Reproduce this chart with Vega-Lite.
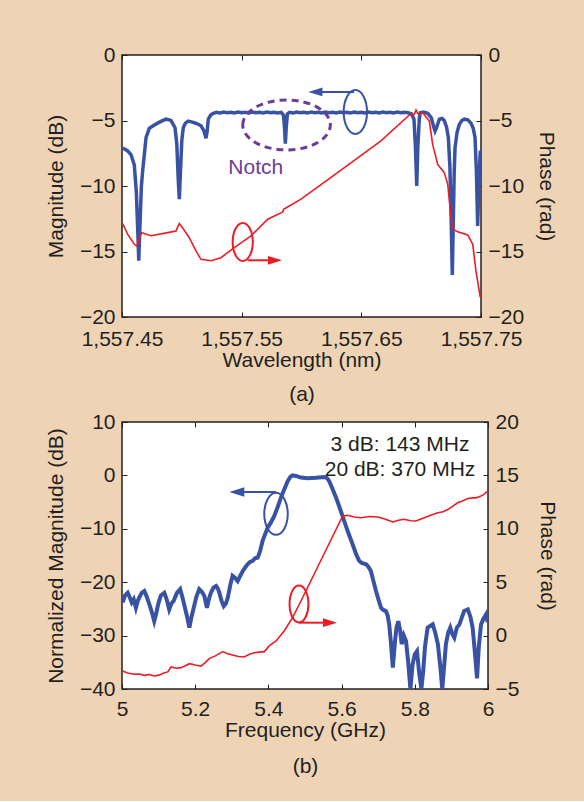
{
 "$schema": "https://vega.github.io/schema/vega-lite/v6.json",
 "background": "#EFD3B5",
 "padding": {"left": 44, "top": 43, "right": 26, "bottom": 24},
 "spacing": 5,
 "config": {
  "font": "Liberation Sans",
  "view": {"fill": "white", "stroke": "#231F20", "strokeWidth": 1.5},
  "axis": {"labelFont": "Liberation Sans", "labelFontSize": 21, "labelColor": "#231F20", "titleFont": "Liberation Sans", "titleFontSize": 21, "titleFontWeight": "normal", "titleColor": "#231F20", "grid": false, "domain": false, "tickColor": "#231F20", "tickSize": -5, "tickWidth": 1, "labelPadding": 12, "titlePadding": 13, "labelFlush": false, "labelOverlap": false}
 },
 "datasets": {
  "magA": [
   {"wavelength":1557.4506,"magnitude":-7.1},{"wavelength":1557.4545,"magnitude":-7.3},{"wavelength":1557.4575,"magnitude":-7.6},{"wavelength":1557.4603,"magnitude":-8.4},{"wavelength":1557.4620,"magnitude":-10.5},{"wavelength":1557.4632,"magnitude":-13.5},{"wavelength":1557.4640,"magnitude":-15.7},{"wavelength":1557.4650,"magnitude":-13.0},{"wavelength":1557.4662,"magnitude":-10.0},{"wavelength":1557.4673,"magnitude":-8.8},{"wavelength":1557.4701,"magnitude":-6.3},{"wavelength":1557.4728,"magnitude":-5.6},{"wavelength":1557.4760,"magnitude":-5.4},{"wavelength":1557.4798,"magnitude":-5.2},{"wavelength":1557.4830,"magnitude":-5.05},{"wavelength":1557.4868,"magnitude":-4.9},{"wavelength":1557.4895,"magnitude":-4.95},{"wavelength":1557.4909,"magnitude":-5.0},{"wavelength":1557.4943,"magnitude":-5.55},{"wavelength":1557.4958,"magnitude":-6.8},{"wavelength":1557.4970,"magnitude":-9.5},{"wavelength":1557.4979,"magnitude":-11.0},{"wavelength":1557.4988,"magnitude":-9.0},{"wavelength":1557.5000,"magnitude":-6.5},{"wavelength":1557.5012,"magnitude":-5.55},{"wavelength":1557.5030,"magnitude":-5.2},{"wavelength":1557.5054,"magnitude":-5.04},{"wavelength":1557.5080,"magnitude":-5.1},{"wavelength":1557.5104,"magnitude":-5.17},{"wavelength":1557.5130,"magnitude":-5.25},{"wavelength":1557.5160,"magnitude":-5.4},{"wavelength":1557.5185,"magnitude":-5.8},{"wavelength":1557.5202,"magnitude":-6.36},{"wavelength":1557.5212,"magnitude":-5.8},{"wavelength":1557.5221,"magnitude":-4.9},{"wavelength":1557.5240,"magnitude":-4.6},{"wavelength":1557.5258,"magnitude":-4.48},{"wavelength":1557.5290,"magnitude":-4.38},{"wavelength":1557.5320,"magnitude":-4.42},{"wavelength":1557.5350,"magnitude":-4.36},{"wavelength":1557.5380,"magnitude":-4.41},{"wavelength":1557.5410,"magnitude":-4.37},{"wavelength":1557.5440,"magnitude":-4.42},{"wavelength":1557.5470,"magnitude":-4.36},{"wavelength":1557.5500,"magnitude":-4.41},{"wavelength":1557.5530,"magnitude":-4.37},{"wavelength":1557.5560,"magnitude":-4.42},{"wavelength":1557.5590,"magnitude":-4.36},{"wavelength":1557.5620,"magnitude":-4.41},{"wavelength":1557.5650,"magnitude":-4.37},{"wavelength":1557.5680,"magnitude":-4.42},{"wavelength":1557.5710,"magnitude":-4.36},{"wavelength":1557.5740,"magnitude":-4.41},{"wavelength":1557.5770,"magnitude":-4.37},{"wavelength":1557.5800,"magnitude":-4.42},{"wavelength":1557.5830,"magnitude":-4.38},{"wavelength":1557.5850,"magnitude":-4.6},{"wavelength":1557.5860,"magnitude":-5.8},{"wavelength":1557.5865,"magnitude":-6.77},{"wavelength":1557.5872,"magnitude":-5.6},{"wavelength":1557.5882,"magnitude":-4.5},{"wavelength":1557.5900,"magnitude":-4.37},{"wavelength":1557.5930,"magnitude":-4.42},{"wavelength":1557.5960,"magnitude":-4.36},{"wavelength":1557.5990,"magnitude":-4.41},{"wavelength":1557.6020,"magnitude":-4.37},{"wavelength":1557.6050,"magnitude":-4.42},{"wavelength":1557.6080,"magnitude":-4.36},{"wavelength":1557.6110,"magnitude":-4.41},{"wavelength":1557.6140,"magnitude":-4.37},{"wavelength":1557.6170,"magnitude":-4.42},{"wavelength":1557.6200,"magnitude":-4.36},{"wavelength":1557.6230,"magnitude":-4.41},{"wavelength":1557.6260,"magnitude":-4.37},{"wavelength":1557.6290,"magnitude":-4.42},{"wavelength":1557.6320,"magnitude":-4.36},{"wavelength":1557.6350,"magnitude":-4.41},{"wavelength":1557.6380,"magnitude":-4.37},{"wavelength":1557.6410,"magnitude":-4.42},{"wavelength":1557.6440,"magnitude":-4.36},{"wavelength":1557.6470,"magnitude":-4.41},{"wavelength":1557.6500,"magnitude":-4.37},{"wavelength":1557.6530,"magnitude":-4.42},{"wavelength":1557.6560,"magnitude":-4.36},{"wavelength":1557.6590,"magnitude":-4.41},{"wavelength":1557.6620,"magnitude":-4.37},{"wavelength":1557.6650,"magnitude":-4.42},{"wavelength":1557.6680,"magnitude":-4.36},{"wavelength":1557.6710,"magnitude":-4.41},{"wavelength":1557.6740,"magnitude":-4.37},{"wavelength":1557.6770,"magnitude":-4.42},{"wavelength":1557.6800,"magnitude":-4.36},{"wavelength":1557.6830,"magnitude":-4.41},{"wavelength":1557.6860,"magnitude":-4.37},{"wavelength":1557.6890,"magnitude":-4.4},{"wavelength":1557.6920,"magnitude":-4.5},{"wavelength":1557.6940,"magnitude":-4.9},{"wavelength":1557.6952,"magnitude":-7.0},{"wavelength":1557.6963,"magnitude":-10.0},{"wavelength":1557.6972,"magnitude":-7.0},{"wavelength":1557.6985,"magnitude":-4.8},{"wavelength":1557.6993,"magnitude":-4.4},{"wavelength":1557.7020,"magnitude":-4.35},{"wavelength":1557.7055,"magnitude":-4.45},{"wavelength":1557.7085,"magnitude":-4.8},{"wavelength":1557.7105,"magnitude":-5.5},{"wavelength":1557.7116,"magnitude":-5.8},{"wavelength":1557.7130,"magnitude":-5.5},{"wavelength":1557.7152,"magnitude":-4.9},{"wavelength":1557.7175,"magnitude":-4.85},{"wavelength":1557.7193,"magnitude":-5.0},{"wavelength":1557.7212,"magnitude":-5.5},{"wavelength":1557.7227,"magnitude":-6.3},{"wavelength":1557.7240,"magnitude":-8.5},{"wavelength":1557.7252,"magnitude":-13.0},{"wavelength":1557.7260,"magnitude":-16.8},{"wavelength":1557.7268,"magnitude":-13.0},{"wavelength":1557.7276,"magnitude":-9.0},{"wavelength":1557.7283,"magnitude":-7.07},{"wavelength":1557.7300,"magnitude":-5.9},{"wavelength":1557.7319,"magnitude":-5.3},{"wavelength":1557.7340,"magnitude":-5.0},{"wavelength":1557.7361,"magnitude":-4.9},{"wavelength":1557.7390,"magnitude":-4.95},{"wavelength":1557.7416,"magnitude":-5.2},{"wavelength":1557.7435,"magnitude":-5.6},{"wavelength":1557.7450,"magnitude":-6.3},{"wavelength":1557.7462,"magnitude":-9.0},{"wavelength":1557.7472,"magnitude":-13.05},{"wavelength":1557.7482,"magnitude":-10.0},{"wavelength":1557.7494,"magnitude":-7.3}
  ],
  "phaseA": [
   {"wavelength":1557.4506,"phase":-12.87},{"wavelength":1557.4548,"phase":-13.7},{"wavelength":1557.4603,"phase":-14.45},{"wavelength":1557.4625,"phase":-14.6},{"wavelength":1557.4645,"phase":-13.95},{"wavelength":1557.4665,"phase":-13.56},{"wavelength":1557.4742,"phase":-13.8},{"wavelength":1557.4882,"phase":-13.56},{"wavelength":1557.4951,"phase":-13.43},{"wavelength":1557.4979,"phase":-12.87},{"wavelength":1557.5007,"phase":-13.2},{"wavelength":1557.5062,"phase":-13.95},{"wavelength":1557.5118,"phase":-14.96},{"wavelength":1557.5160,"phase":-15.6},{"wavelength":1557.5244,"phase":-15.7},{"wavelength":1557.5327,"phase":-15.47},{"wavelength":1557.5438,"phase":-14.7},{"wavelength":1557.5578,"phase":-13.8},{"wavelength":1557.5718,"phase":-12.54},{"wavelength":1557.5843,"phase":-11.98},{"wavelength":1557.5854,"phase":-11.75},{"wavelength":1557.5862,"phase":-11.72},{"wavelength":1557.5996,"phase":-11.0},{"wavelength":1557.6330,"phase":-8.79},{"wavelength":1557.6664,"phase":-6.56},{"wavelength":1557.6901,"phase":-4.58},{"wavelength":1557.6943,"phase":-4.53},{"wavelength":1557.6957,"phase":-4.2},{"wavelength":1557.6971,"phase":-4.48},{"wavelength":1557.7013,"phase":-4.4},{"wavelength":1557.7068,"phase":-5.04},{"wavelength":1557.7096,"phase":-6.82},{"wavelength":1557.7138,"phase":-8.35},{"wavelength":1557.7193,"phase":-8.98},{"wavelength":1557.7222,"phase":-9.87},{"wavelength":1557.7249,"phase":-12.4},{"wavelength":1557.7268,"phase":-13.3},{"wavelength":1557.7305,"phase":-13.5},{"wavelength":1557.7389,"phase":-13.74},{"wavelength":1557.7431,"phase":-14.45},{"wavelength":1557.7458,"phase":-16.5},{"wavelength":1557.7494,"phase":-18.5}
  ],
  "notchA": [{"wavelength":1557.5875,"value":-5.34,"label":"Notch","textY":-9.1,"textX":1557.5618}],
  "magMarkA": [{"wavelength":1557.645,"value":-4.35,"arrowStart":1557.6439,"arrowEnd":1557.6116,"arrowY":-2.82}],
  "phaseMarkA": [{"wavelength":1557.5509,"value":-14.27,"arrowStart":1557.5548,"arrowEnd":1557.5779,"arrowY":-15.67}],
  "magB": [
   {"frequency":5.002,"magnitude":-23.8},{"frequency":5.008,"magnitude":-22.5},{"frequency":5.0156,"magnitude":-21.97},{"frequency":5.021,"magnitude":-22.8},{"frequency":5.0265,"magnitude":-23.8},{"frequency":5.032,"magnitude":-23.2},{"frequency":5.038,"magnitude":-24.8},{"frequency":5.043,"magnitude":-23.5},{"frequency":5.047,"magnitude":-22.9},{"frequency":5.054,"magnitude":-22.0},{"frequency":5.061,"magnitude":-21.65},{"frequency":5.067,"magnitude":-22.6},{"frequency":5.0746,"magnitude":-24.1},{"frequency":5.081,"magnitude":-25.5},{"frequency":5.088,"magnitude":-27.3},{"frequency":5.093,"magnitude":-26.0},{"frequency":5.099,"magnitude":-24.1},{"frequency":5.106,"magnitude":-22.5},{"frequency":5.1156,"magnitude":-21.97},{"frequency":5.122,"magnitude":-23.2},{"frequency":5.129,"magnitude":-25.1},{"frequency":5.135,"magnitude":-24.0},{"frequency":5.141,"magnitude":-23.5},{"frequency":5.150,"magnitude":-22.0},{"frequency":5.159,"magnitude":-21.3},{"frequency":5.165,"magnitude":-22.8},{"frequency":5.172,"magnitude":-24.8},{"frequency":5.178,"magnitude":-26.5},{"frequency":5.184,"magnitude":-28.5},{"frequency":5.190,"magnitude":-26.5},{"frequency":5.196,"magnitude":-24.8},{"frequency":5.203,"magnitude":-22.8},{"frequency":5.211,"magnitude":-21.3},{"frequency":5.218,"magnitude":-21.8},{"frequency":5.225,"magnitude":-22.6},{"frequency":5.232,"magnitude":-24.8},{"frequency":5.238,"magnitude":-23.0},{"frequency":5.243,"magnitude":-21.97},{"frequency":5.250,"magnitude":-21.0},{"frequency":5.257,"magnitude":-20.7},{"frequency":5.262,"magnitude":-21.2},{"frequency":5.266,"magnitude":-21.97},{"frequency":5.272,"magnitude":-23.5},{"frequency":5.278,"magnitude":-24.5},{"frequency":5.284,"magnitude":-24.0},{"frequency":5.289,"magnitude":-22.9},{"frequency":5.296,"magnitude":-20.5},{"frequency":5.302,"magnitude":-18.8},{"frequency":5.309,"magnitude":-19.2},{"frequency":5.316,"magnitude":-19.8},{"frequency":5.323,"magnitude":-18.8},{"frequency":5.330,"magnitude":-17.9},{"frequency":5.337,"magnitude":-17.2},{"frequency":5.343,"magnitude":-16.65},{"frequency":5.350,"magnitude":-16.2},{"frequency":5.357,"magnitude":-16.0},{"frequency":5.364,"magnitude":-15.5},{"frequency":5.371,"magnitude":-15.4},{"frequency":5.378,"magnitude":-14.0},{"frequency":5.384,"magnitude":-12.3},{"frequency":5.391,"magnitude":-11.0},{"frequency":5.398,"magnitude":-9.8},{"frequency":5.407,"magnitude":-8.8},{"frequency":5.416,"magnitude":-7.6},{"frequency":5.425,"magnitude":-6.0},{"frequency":5.434,"magnitude":-4.2},{"frequency":5.444,"magnitude":-2.5},{"frequency":5.453,"magnitude":-1.05},{"frequency":5.460,"magnitude":-0.3},{"frequency":5.466,"magnitude":0.0},{"frequency":5.475,"magnitude":-0.1},{"frequency":5.489,"magnitude":-0.4},{"frequency":5.507,"magnitude":-0.55},{"frequency":5.530,"magnitude":-0.45},{"frequency":5.553,"magnitude":-0.3},{"frequency":5.560,"magnitude":-0.5},{"frequency":5.566,"magnitude":-1.05},{"frequency":5.575,"magnitude":-2.5},{"frequency":5.585,"magnitude":-4.2},{"frequency":5.596,"magnitude":-6.3},{"frequency":5.607,"magnitude":-8.5},{"frequency":5.618,"magnitude":-10.7},{"frequency":5.630,"magnitude":-12.9},{"frequency":5.640,"magnitude":-14.8},{"frequency":5.648,"magnitude":-16.0},{"frequency":5.655,"magnitude":-16.4},{"frequency":5.667,"magnitude":-16.65},{"frequency":5.674,"magnitude":-17.2},{"frequency":5.680,"magnitude":-17.9},{"frequency":5.687,"magnitude":-19.8},{"frequency":5.694,"magnitude":-21.65},{"frequency":5.701,"magnitude":-23.3},{"frequency":5.708,"magnitude":-24.8},{"frequency":5.714,"magnitude":-25.2},{"frequency":5.721,"magnitude":-25.4},{"frequency":5.726,"magnitude":-26.3},{"frequency":5.730,"magnitude":-27.9},{"frequency":5.735,"magnitude":-31.5},{"frequency":5.740,"magnitude":-36.0},{"frequency":5.746,"magnitude":-31.0},{"frequency":5.750,"magnitude":-28.5},{"frequency":5.755,"magnitude":-27.3},{"frequency":5.760,"magnitude":-29.0},{"frequency":5.764,"magnitude":-31.6},{"frequency":5.770,"magnitude":-30.0},{"frequency":5.776,"magnitude":-31.0},{"frequency":5.782,"magnitude":-35.0},{"frequency":5.788,"magnitude":-40.0},{"frequency":5.794,"magnitude":-35.4},{"frequency":5.800,"magnitude":-33.5},{"frequency":5.806,"magnitude":-32.9},{"frequency":5.812,"magnitude":-37.0},{"frequency":5.818,"magnitude":-40.0},{"frequency":5.823,"magnitude":-36.6},{"frequency":5.828,"magnitude":-32.0},{"frequency":5.835,"magnitude":-28.5},{"frequency":5.842,"magnitude":-28.2},{"frequency":5.849,"magnitude":-27.9},{"frequency":5.856,"magnitude":-29.5},{"frequency":5.863,"magnitude":-31.6},{"frequency":5.870,"magnitude":-36.0},{"frequency":5.875,"magnitude":-40.0},{"frequency":5.881,"magnitude":-35.0},{"frequency":5.885,"magnitude":-31.6},{"frequency":5.891,"magnitude":-29.5},{"frequency":5.897,"magnitude":-28.5},{"frequency":5.903,"magnitude":-29.8},{"frequency":5.908,"magnitude":-30.4},{"frequency":5.915,"magnitude":-28.5},{"frequency":5.922,"magnitude":-27.9},{"frequency":5.929,"magnitude":-26.5},{"frequency":5.935,"magnitude":-25.4},{"frequency":5.945,"magnitude":-25.1},{"frequency":5.952,"magnitude":-26.5},{"frequency":5.958,"magnitude":-28.5},{"frequency":5.964,"magnitude":-33.0},{"frequency":5.970,"magnitude":-38.0},{"frequency":5.975,"magnitude":-32.0},{"frequency":5.981,"magnitude":-27.9},{"frequency":5.988,"magnitude":-26.8},{"frequency":5.995,"magnitude":-26.0},{"frequency":5.999,"magnitude":-27.5}
  ],
  "phaseB": [
   {"frequency":5.002,"phase":-3.31},{"frequency":5.015,"phase":-3.5},{"frequency":5.034,"phase":-3.62},{"frequency":5.048,"phase":-3.6},{"frequency":5.061,"phase":-3.72},{"frequency":5.075,"phase":-3.65},{"frequency":5.088,"phase":-3.78},{"frequency":5.100,"phase":-3.7},{"frequency":5.116,"phase":-3.47},{"frequency":5.125,"phase":-3.4},{"frequency":5.134,"phase":-2.94},{"frequency":5.148,"phase":-3.05},{"frequency":5.161,"phase":-3.0},{"frequency":5.172,"phase":-2.85},{"frequency":5.184,"phase":-2.63},{"frequency":5.200,"phase":-2.75},{"frequency":5.216,"phase":-2.85},{"frequency":5.228,"phase":-2.5},{"frequency":5.239,"phase":-2.13},{"frequency":5.255,"phase":-1.9},{"frequency":5.275,"phase":-1.5},{"frequency":5.288,"phase":-1.7},{"frequency":5.302,"phase":-1.82},{"frequency":5.318,"phase":-1.95},{"frequency":5.334,"phase":-2.0},{"frequency":5.348,"phase":-1.75},{"frequency":5.361,"phase":-1.6},{"frequency":5.375,"phase":-1.55},{"frequency":5.389,"phase":-1.5},{"frequency":5.402,"phase":-0.97},{"frequency":5.421,"phase":-0.5},{"frequency":5.443,"phase":0.43},{"frequency":5.466,"phase":1.68},{"frequency":5.489,"phase":3.24},{"frequency":5.603,"phase":11.2},{"frequency":5.617,"phase":11.26},{"frequency":5.635,"phase":11.1},{"frequency":5.653,"phase":11.04},{"frequency":5.675,"phase":11.15},{"frequency":5.699,"phase":11.1},{"frequency":5.720,"phase":10.9},{"frequency":5.740,"phase":10.64},{"frequency":5.755,"phase":10.8},{"frequency":5.771,"phase":10.89},{"frequency":5.788,"phase":10.75},{"frequency":5.803,"phase":10.73},{"frequency":5.815,"phase":10.9},{"frequency":5.826,"phase":11.04},{"frequency":5.845,"phase":11.3},{"frequency":5.863,"phase":11.5},{"frequency":5.877,"phase":11.6},{"frequency":5.890,"phase":11.8},{"frequency":5.903,"phase":12.1},{"frequency":5.917,"phase":12.44},{"frequency":5.930,"phase":12.6},{"frequency":5.945,"phase":12.84},{"frequency":5.957,"phase":12.9},{"frequency":5.967,"phase":12.9},{"frequency":5.976,"phase":13.0},{"frequency":5.986,"phase":13.15},{"frequency":5.999,"phase":13.54}
  ],
  "magMarkB": [{"frequency":5.4208,"value":-7.19,"arrowStart":5.4208,"arrowEnd":5.3137,"arrowY":-3.11}],
  "phaseMarkB": [{"frequency":5.4836,"value":2.96,"arrowStart":5.4836,"arrowEnd":5.5683,"arrowY":1.21}],
  "notesB": [{"frequency":5.7596,"value":4.57,"label":"3 dB: 143 MHz"},{"frequency":5.7596,"value":-0.11,"label":"20 dB: 370 MHz"}]
 },
 "vconcat": [
  {
   "width": 359, "height": 262,
   "resolve": {"scale": {"y": "independent"}, "axis": {"x": "independent"}},
   "layer": [
    {"data": {"name": "magA"},
     "mark": {"type": "line", "color": "#3953A4", "strokeWidth": 3.5, "clip": true},
     "encoding": {
      "x": {"field": "wavelength", "type": "quantitative", "scale": {"domain": [1557.45, 1557.75], "nice": false, "zero": false},
            "axis": {"orient": "bottom", "values": [1557.45, 1557.55, 1557.65, 1557.75], "format": ",.2f", "title": ["Wavelength (nm)", "(a)"], "titleLineHeight": 34, "labelPadding": 16, "titlePadding": 0}},
      "y": {"field": "magnitude", "type": "quantitative", "scale": {"domain": [-20, 0], "nice": false, "zero": false},
            "axis": {"orient": "left", "values": [0, -5, -10, -15, -20], "title": "Magnitude (dB)"}}
     }},
    {"data": {"name": "phaseA"},
     "mark": {"type": "line", "color": "#ED1C24", "strokeWidth": 1.6, "clip": true},
     "encoding": {
      "x": {"field": "wavelength", "type": "quantitative", "scale": {"domain": [1557.45, 1557.75], "nice": false, "zero": false},
            "axis": {"orient": "top", "values": [1557.45, 1557.55, 1557.65, 1557.75], "labels": false, "title": null}},
      "y": {"field": "phase", "type": "quantitative", "scale": {"domain": [-20, 0], "nice": false, "zero": false},
            "axis": {"orient": "right", "values": [0, -5, -10, -15, -20], "title": "Phase (rad)", "titlePadding": 12}}
     }},
    {"data": {"name": "notchA"},
     "mark": {"type": "point", "shape": "M-1,0A1,0.57 0 1 1 1,0A1,0.57 0 1 1 -1,0Z", "size": 7674, "filled": false, "stroke": "#6B3D97", "strokeWidth": 3, "strokeDash": [7, 5], "opacity": 1},
     "encoding": {
      "x": {"field": "wavelength", "type": "quantitative", "axis": null},
      "y": {"field": "value", "type": "quantitative", "scale": {"domain": [-20, 0], "nice": false, "zero": false}, "axis": null}
     }},
    {"data": {"name": "notchA"},
     "mark": {"type": "text", "font": "Liberation Sans", "fontSize": 21, "color": "#6B3D97", "align": "center", "baseline": "alphabetic"},
     "encoding": {
      "x": {"field": "textX", "type": "quantitative", "axis": null},
      "y": {"field": "textY", "type": "quantitative", "scale": {"domain": [-20, 0], "nice": false, "zero": false}, "axis": null},
      "text": {"field": "label"}
     }},
    {"data": {"name": "magMarkA"},
     "mark": {"type": "point", "shape": "M0,-1A0.53,1 0 1 1 0,1A0.53,1 0 1 1 0,-1Z", "size": 1936, "filled": false, "stroke": "#3953A4", "strokeWidth": 2, "opacity": 1},
     "encoding": {
      "x": {"field": "wavelength", "type": "quantitative", "axis": null},
      "y": {"field": "value", "type": "quantitative", "scale": {"domain": [-20, 0], "nice": false, "zero": false}, "axis": null}
     }},
    {"data": {"name": "magMarkA"},
     "mark": {"type": "rule", "color": "#3953A4", "strokeWidth": 2},
     "encoding": {
      "x": {"field": "arrowStart", "type": "quantitative", "axis": null},
      "x2": {"field": "arrowEnd"},
      "y": {"field": "arrowY", "type": "quantitative", "scale": {"domain": [-20, 0], "nice": false, "zero": false}, "axis": null}
     }},
    {"data": {"name": "magMarkA"},
     "mark": {"type": "point", "shape": "M-1,0L1,-0.62L1,0.62Z", "size": 200, "filled": true, "color": "#3953A4", "opacity": 1},
     "encoding": {
      "x": {"field": "arrowEnd", "type": "quantitative", "axis": null},
      "y": {"field": "arrowY", "type": "quantitative", "scale": {"domain": [-20, 0], "nice": false, "zero": false}, "axis": null}
     }},
    {"data": {"name": "phaseMarkA"},
     "mark": {"type": "point", "shape": "M0,-1A0.53,1 0 1 1 0,1A0.53,1 0 1 1 0,-1Z", "size": 1444, "filled": false, "stroke": "#ED1C24", "strokeWidth": 2, "opacity": 1},
     "encoding": {
      "x": {"field": "wavelength", "type": "quantitative", "axis": null},
      "y": {"field": "value", "type": "quantitative", "scale": {"domain": [-20, 0], "nice": false, "zero": false}, "axis": null}
     }},
    {"data": {"name": "phaseMarkA"},
     "mark": {"type": "rule", "color": "#ED1C24", "strokeWidth": 2},
     "encoding": {
      "x": {"field": "arrowStart", "type": "quantitative", "axis": null},
      "x2": {"field": "arrowEnd"},
      "y": {"field": "arrowY", "type": "quantitative", "scale": {"domain": [-20, 0], "nice": false, "zero": false}, "axis": null}
     }},
    {"data": {"name": "phaseMarkA"},
     "mark": {"type": "point", "shape": "M1,0L-1,-0.62L-1,0.62Z", "size": 200, "filled": true, "color": "#ED1C24", "opacity": 1},
     "encoding": {
      "x": {"field": "arrowEnd", "type": "quantitative", "axis": null},
      "y": {"field": "arrowY", "type": "quantitative", "scale": {"domain": [-20, 0], "nice": false, "zero": false}, "axis": null}
     }}
   ]
  },
  {
   "width": 366, "height": 267,
   "resolve": {"scale": {"y": "independent"}, "axis": {"x": "independent"}},
   "layer": [
    {"data": {"name": "magB"},
     "mark": {"type": "line", "color": "#3953A4", "strokeWidth": 4, "clip": true},
     "encoding": {
      "x": {"field": "frequency", "type": "quantitative", "scale": {"domain": [5, 6], "nice": false, "zero": false},
            "axis": {"orient": "bottom", "values": [5, 5.2, 5.4, 5.6, 5.8, 6], "format": "~g", "title": ["Frequency (GHz)", "(b)"], "titleLineHeight": 36, "labelPadding": 14, "titlePadding": 0}},
      "y": {"field": "magnitude", "type": "quantitative", "scale": {"domain": [-40, 10], "nice": false, "zero": false},
            "axis": {"orient": "left", "values": [10, 0, -10, -20, -30, -40], "title": "Normalized Magnitude (dB)"}}
     }},
    {"data": {"name": "phaseB"},
     "mark": {"type": "line", "color": "#ED1C24", "strokeWidth": 1.6, "clip": true},
     "encoding": {
      "x": {"field": "frequency", "type": "quantitative", "scale": {"domain": [5, 6], "nice": false, "zero": false},
            "axis": {"orient": "top", "values": [5, 5.2, 5.4, 5.6, 5.8, 6], "labels": false, "title": null}},
      "y": {"field": "phase", "type": "quantitative", "scale": {"domain": [-5, 20], "nice": false, "zero": false},
            "axis": {"orient": "right", "values": [20, 15, 10, 5, 0, -5], "title": "Phase (rad)", "titlePadding": 18}}
     }},
    {"data": {"name": "notesB"},
     "mark": {"type": "text", "font": "Liberation Sans", "fontSize": 21, "color": "#231F20", "align": "center", "baseline": "alphabetic"},
     "encoding": {
      "x": {"field": "frequency", "type": "quantitative", "axis": null},
      "y": {"field": "value", "type": "quantitative", "scale": {"domain": [-40, 10], "nice": false, "zero": false}, "axis": null},
      "text": {"field": "label"}
     }},
    {"data": {"name": "magMarkB"},
     "mark": {"type": "point", "shape": "M0,-1A0.56,1 0 1 1 0,1A0.56,1 0 1 1 0,-1Z", "size": 1764, "filled": false, "stroke": "#3953A4", "strokeWidth": 2, "opacity": 1},
     "encoding": {
      "x": {"field": "frequency", "type": "quantitative", "axis": null},
      "y": {"field": "value", "type": "quantitative", "scale": {"domain": [-40, 10], "nice": false, "zero": false}, "axis": null}
     }},
    {"data": {"name": "magMarkB"},
     "mark": {"type": "rule", "color": "#3953A4", "strokeWidth": 2},
     "encoding": {
      "x": {"field": "arrowStart", "type": "quantitative", "axis": null},
      "x2": {"field": "arrowEnd"},
      "y": {"field": "arrowY", "type": "quantitative", "scale": {"domain": [-40, 10], "nice": false, "zero": false}, "axis": null}
     }},
    {"data": {"name": "magMarkB"},
     "mark": {"type": "point", "shape": "M-1,0L1,-0.62L1,0.62Z", "size": 225, "filled": true, "color": "#3953A4", "opacity": 1},
     "encoding": {
      "x": {"field": "arrowEnd", "type": "quantitative", "axis": null},
      "y": {"field": "arrowY", "type": "quantitative", "scale": {"domain": [-40, 10], "nice": false, "zero": false}, "axis": null}
     }},
    {"data": {"name": "phaseMarkB"},
     "mark": {"type": "point", "shape": "M0,-1A0.51,1 0 1 1 0,1A0.51,1 0 1 1 0,-1Z", "size": 1369, "filled": false, "stroke": "#ED1C24", "strokeWidth": 2, "opacity": 1},
     "encoding": {
      "x": {"field": "frequency", "type": "quantitative", "axis": null},
      "y": {"field": "value", "type": "quantitative", "scale": {"domain": [-5, 20], "nice": false, "zero": false}, "axis": null}
     }},
    {"data": {"name": "phaseMarkB"},
     "mark": {"type": "rule", "color": "#ED1C24", "strokeWidth": 2},
     "encoding": {
      "x": {"field": "arrowStart", "type": "quantitative", "axis": null},
      "x2": {"field": "arrowEnd"},
      "y": {"field": "arrowY", "type": "quantitative", "scale": {"domain": [-5, 20], "nice": false, "zero": false}, "axis": null}
     }},
    {"data": {"name": "phaseMarkB"},
     "mark": {"type": "point", "shape": "M1,0L-1,-0.62L-1,0.62Z", "size": 200, "filled": true, "color": "#ED1C24", "opacity": 1},
     "encoding": {
      "x": {"field": "arrowEnd", "type": "quantitative", "axis": null},
      "y": {"field": "arrowY", "type": "quantitative", "scale": {"domain": [-5, 20], "nice": false, "zero": false}, "axis": null}
     }}
   ]
  }
 ]
}
